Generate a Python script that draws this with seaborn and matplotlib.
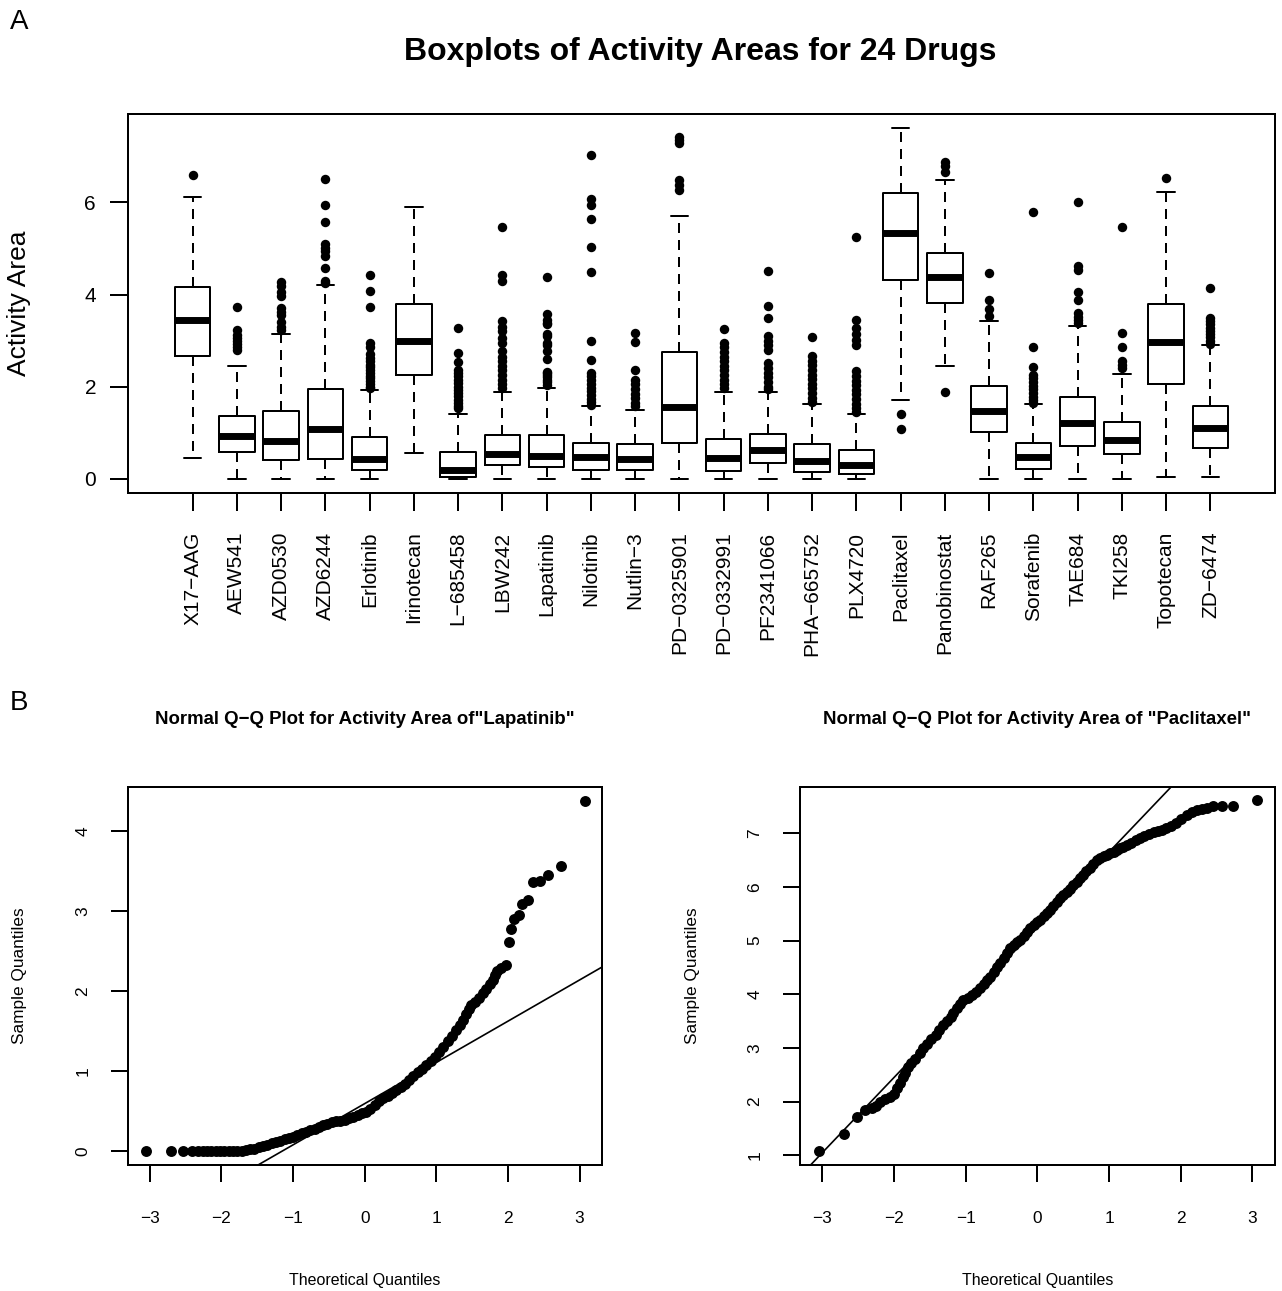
import statistics
import matplotlib
matplotlib.use("Agg")
import matplotlib.pyplot as plt
import seaborn as sns

# Boxplot summaries
drugs = ["X17−AAG", "AEW541", "AZD0530", "AZD6244", "Erlotinib", "Irinotecan",
         "L−685458", "LBW242", "Lapatinib", "Nilotinib", "Nutlin−3", "PD−0325901",
         "PD−0332991", "PF2341066", "PHA−665752", "PLX4720", "Paclitaxel",
         "Panobinostat", "RAF265", "Sorafenib", "TAE684", "TKI258", "Topotecan",
         "ZD−6474"]
box_q1 = [2.67, 0.59, 0.41, 0.43, 0.18, 2.25, 0.03, 0.29, 0.245, 0.195, 0.195, 0.77,
          0.16, 0.34, 0.14, 0.11, 4.305, 3.815, 1.01, 0.21, 0.72, 0.54, 2.06, 0.67]
box_median = [3.44, 0.92, 0.82, 1.08, 0.43, 2.98, 0.195, 0.54, 0.485, 0.47, 0.43, 1.56,
              0.45, 0.63, 0.38, 0.30, 5.335, 4.37, 1.48, 0.47, 1.21, 0.83, 2.96, 1.10]
box_q3 = [4.16, 1.37, 1.46, 1.95, 0.90, 3.80, 0.59, 0.94, 0.94, 0.77, 0.745, 2.75,
          0.87, 0.97, 0.75, 0.63, 6.195, 4.90, 2.02, 0.78, 1.77, 1.24, 3.80, 1.57]
whisker_low = [0.44, 0.0, 0.0, 0.0, 0.0, 0.56, 0.0, 0.0, 0.0, 0.0, 0.0, 0.0,
               0.0, 0.0, 0.0, 0.0, 1.72, 2.45, 0.0, 0.0, 0.0, 0.0, 0.03, 0.03]
whisker_high = [6.12, 2.44, 3.14, 4.20, 1.92, 5.89, 1.40, 1.89, 1.96, 1.57, 1.50, 5.70,
                1.89, 1.89, 1.62, 1.40, 7.62, 6.49, 3.42, 1.62, 3.32, 2.27, 6.22, 2.90]
outliers = [
    [6.60],
    [3.73, 3.24, 3.12, 3.05, 2.98, 2.92, 2.86, 2.80],
    [4.28, 4.18, 4.05, 3.96, 3.70, 3.62, 3.55, 3.40, 3.30, 3.24],
    [6.51, 5.94, 5.58, 5.10, 5.02, 4.95, 4.83, 4.57, 4.30, 4.24],
    [4.43, 4.08, 3.73, 2.95, 2.85, 2.70, 2.62, 2.55, 2.48, 2.42, 2.36, 2.30, 2.24,
     2.18, 2.12, 2.06, 2.00, 1.96],
    [],
    [3.27, 2.73, 2.53, 2.37, 2.30, 2.22, 2.15, 2.08, 2.00, 1.93, 1.86, 1.79, 1.72,
     1.65, 1.58, 1.53],
    [5.46, 4.42, 4.30, 3.43, 3.30, 3.20, 3.05, 2.95, 2.77, 2.65, 2.55, 2.45, 2.35,
     2.25, 2.15, 2.05, 1.97],
    [4.38, 3.57, 3.45, 3.38, 3.36, 3.14, 3.09, 2.95, 2.90, 2.77, 2.61, 2.32, 2.29,
     2.25, 2.20, 2.14, 2.09, 2.03],
    [7.02, 6.07, 5.95, 5.65, 5.03, 4.48, 3.00, 2.58, 2.30, 2.22, 2.14, 2.06, 1.98,
     1.90, 1.82, 1.74, 1.66, 1.61],
    [3.16, 2.97, 2.37, 2.15, 2.05, 1.95, 1.85, 1.75, 1.65, 1.58],
    [7.43, 7.36, 7.30, 6.48, 6.38, 6.26],
    [3.25, 2.95, 2.85, 2.75, 2.65, 2.55, 2.45, 2.35, 2.25, 2.15, 2.05, 1.97],
    [4.52, 3.74, 3.49, 3.09, 3.00, 2.90, 2.80, 2.51, 2.40, 2.30, 2.20, 2.10, 2.00, 1.95],
    [3.07, 2.66, 2.56, 2.46, 2.36, 2.26, 2.16, 2.06, 1.96, 1.86, 1.76, 1.66],
    [5.24, 3.45, 3.27, 3.15, 3.02, 2.90, 2.33, 2.23, 2.13, 2.03, 1.93, 1.83, 1.73,
     1.63, 1.53, 1.45],
    [1.40, 1.086],
    [6.87, 6.80, 6.67, 1.89],
    [4.46, 3.89, 3.68, 3.54],
    [5.80, 2.86, 2.43, 2.26, 2.18, 2.10, 2.02, 1.94, 1.86, 1.78, 1.70, 1.64],
    [6.00, 4.63, 4.54, 4.05, 3.89, 3.60, 3.52, 3.45, 3.38],
    [5.46, 3.16, 2.85, 2.55, 2.48, 2.40],
    [6.54],
    [4.15, 3.49, 3.42, 3.35, 3.28, 3.21, 3.14, 3.07, 3.00, 2.93],
]

# Q-Q points (theoretical quantile, sample quantile)
lapatinib_theoretical = [
    -3.05, -2.70, -2.54, -2.41, -2.33, -2.26, -2.20, -2.14, -2.08, -2.02, -1.96, -1.90,
    -1.84, -1.78, -1.72, -1.66, -1.60, -1.54, -1.48, -1.42, -1.36, -1.30, -1.24, -1.18,
    -1.12, -1.06, -1.00, -0.94, -0.88, -0.82, -0.76, -0.70, -0.64, -0.58, -0.52, -0.46,
    -0.40, -0.34, -0.28, -0.22, -0.16, -0.10, -0.04, 0.02, 0.08, 0.14, 0.20, 0.26, 0.32,
    0.38, 0.44, 0.50, 0.56, 0.62, 0.68, 0.74, 0.80, 0.86, 0.92, 0.98, 1.04, 1.10, 1.16,
    1.22, 1.28, 1.33, 1.37, 1.41, 1.45, 1.49, 1.54, 1.60, 1.65, 1.70, 1.75, 1.79, 1.82,
    1.85, 1.905, 1.975, 2.011, 2.049, 2.09, 2.15, 2.198, 2.277, 2.346, 2.449, 2.565,
    2.742, 3.081]
lapatinib_sample = [
    0.0, 0.0, 0.0, 0.0, 0.0, 0.0, 0.0, 0.0, 0.0, 0.0, 0.0, 0.0,
    0.0, 0.0, 0.005, 0.01, 0.02, 0.03, 0.05, 0.06, 0.08, 0.095, 0.11, 0.13,
    0.15, 0.165, 0.18, 0.20, 0.22, 0.24, 0.26, 0.28, 0.30, 0.32, 0.34, 0.36,
    0.37, 0.38, 0.39, 0.41, 0.43, 0.45, 0.47, 0.49, 0.53, 0.57, 0.62, 0.66, 0.69,
    0.72, 0.76, 0.80, 0.84, 0.89, 0.94, 0.99, 1.03, 1.07, 1.12, 1.18, 1.24, 1.30, 1.37,
    1.44, 1.51, 1.58, 1.64, 1.71, 1.77, 1.82, 1.86, 1.91, 1.97, 2.03, 2.09, 2.14, 2.20,
    2.25, 2.29, 2.32, 2.61, 2.77, 2.90, 2.95, 3.09, 3.14, 3.36, 3.38, 3.45,
    3.567, 4.38]

paclitaxel_theoretical = [
    -3.046, -2.70, -2.52, -2.40, -2.31, -2.25, -2.195, -2.12, -2.055, -2.00, -1.96, -1.92,
    -1.88, -1.85, -1.80, -1.76, -1.70, -1.64, -1.59, -1.54, -1.48, -1.42, -1.37, -1.31,
    -1.26, -1.21, -1.17, -1.12, -1.08, -1.03, -0.97, -0.91, -0.85, -0.80, -0.75, -0.70,
    -0.66, -0.61, -0.56, -0.52, -0.47, -0.43, -0.38, -0.33, -0.28, -0.24, -0.19, -0.15,
    -0.10, -0.05, 0.0, 0.04, 0.09, 0.13, 0.17, 0.22, 0.27, 0.315, 0.36, 0.41, 0.455,
    0.50, 0.55, 0.595, 0.64, 0.685, 0.73, 0.78, 0.83, 0.88, 0.93, 0.97, 1.02, 1.065,
    1.11, 1.155, 1.20, 1.245, 1.30, 1.37, 1.43, 1.49, 1.56, 1.62, 1.68, 1.74, 1.80,
    1.87, 1.94, 2.01, 2.08, 2.15, 2.22, 2.29, 2.36, 2.45, 2.57, 2.73, 3.067]
paclitaxel_sample = [
    1.086, 1.40, 1.72, 1.84, 1.875, 1.92, 2.00, 2.05, 2.09, 2.15, 2.25, 2.35,
    2.45, 2.53, 2.65, 2.72, 2.79, 2.90, 3.00, 3.07, 3.16, 3.25, 3.33, 3.43,
    3.51, 3.58, 3.65, 3.75, 3.82, 3.89, 3.94, 3.98, 4.04, 4.11, 4.19, 4.27,
    4.33, 4.42, 4.51, 4.58, 4.68, 4.77, 4.86, 4.92, 4.97, 5.01, 5.09, 5.16,
    5.23, 5.30, 5.35, 5.39, 5.46, 5.52, 5.57, 5.65, 5.72, 5.79, 5.85, 5.91, 5.97,
    6.03, 6.10, 6.16, 6.22, 6.29, 6.35, 6.43, 6.50, 6.54, 6.57, 6.595, 6.63, 6.66,
    6.69, 6.72, 6.75, 6.78, 6.82, 6.87, 6.91, 6.95, 6.99, 7.03, 7.05, 7.07, 7.09,
    7.13, 7.19, 7.27, 7.34, 7.39, 7.43, 7.45, 7.47, 7.50, 7.50, 7.51, 7.62]

W, H = 1282, 1291
LW = 1.44

sns.set_theme(style="ticks", rc={
    "axes.edgecolor": "black", "axes.linewidth": LW,
    "xtick.color": "black", "ytick.color": "black",
    "xtick.major.width": LW, "ytick.major.width": LW,
    "text.color": "black", "axes.labelcolor": "black",
})
plt.rcParams["font.family"] = ["Liberation Sans", "DejaVu Sans"]

fig = plt.figure(figsize=(W / 100, H / 100), dpi=100)


def frame(left, top, right, bottom):
    return fig.add_axes([left / W, 1 - bottom / H, (right - left) / W, (bottom - top) / H])


# 🔹 Panel A: boxplots
ax = frame(128, 114.3, 1275, 492.7)
stats = []
for i, name in enumerate(drugs):
    stats.append(dict(label=name, q1=box_q1[i], med=box_median[i], q3=box_q3[i],
                      whislo=whisker_low[i], whishi=whisker_high[i], fliers=outliers[i]))
ax.bxp(stats, positions=list(range(1, len(drugs) + 1)), widths=0.8, capwidths=0.4,
       boxprops=dict(color="black", lw=LW),
       whiskerprops=dict(color="black", lw=LW, linestyle=(0, (5, 3.5))),
       capprops=dict(color="black", lw=LW),
       medianprops=dict(color="black", lw=5, solid_capstyle="butt"),
       flierprops=dict(marker="o", markerfacecolor="black", markeredgecolor="black",
                       markersize=6.8, markeredgewidth=0))
ax.set_xlim(-0.46, 25.46)
ax.set_ylim(-0.304, 7.914)
ax.set_yticks([0, 2, 4, 6])
ax.tick_params(axis="x", labelrotation=90, length=13, pad=15, labelsize=15)
ax.tick_params(axis="y", length=13, pad=10, labelsize=15)

fig.text(700 / W, 1 - 60 / H, "Boxplots of Activity Areas for 24 Drugs",
         ha="center", va="baseline", fontsize=23, fontweight="bold")
fig.text(19 / W, 1 - 303.5 / H, "Activity Area", rotation=90,
         ha="center", va="center", fontsize=19)
fig.text(10 / W, 1 - 29 / H, "A", fontsize=20, va="baseline")
fig.text(10 / W, 1 - 710 / H, "B", fontsize=20, va="baseline")

# 🔹 Panel B: normal Q-Q plots
q75 = statistics.NormalDist().inv_cdf(0.75)
panels = [
    (127.7, 601.7, lapatinib_theoretical, lapatinib_sample, "Lapatinib",
     'Normal Q−Q Plot for Activity Area of"Lapatinib"', (-0.175, 4.555), range(0, 5)),
    (800, 1274.7, paclitaxel_theoretical, paclitaxel_sample, "Paclitaxel",
     'Normal Q−Q Plot for Activity Area of "Paclitaxel"', (0.819, 7.868), range(1, 8)),
]
for left, right, theo, samp, drug, title, ylim, yticks in panels:
    qa = frame(left, 786.7, right, 1165)
    sns.scatterplot(x=theo, y=samp, ax=qa, color="black", s=62, linewidth=0)
    k = drugs.index(drug)
    slope = (box_q3[k] - box_q1[k]) / (2 * q75)
    intercept = box_q1[k] + slope * q75
    qa.axline((0, intercept), slope=slope, color="black", lw=1.2)
    qa.set_xlim(-3.31, 3.31)
    qa.set_ylim(*ylim)
    qa.set_xticks(range(-3, 4))
    qa.set_yticks(list(yticks))
    qa.tick_params(axis="x", length=12, pad=21, labelsize=12.4)
    qa.tick_params(axis="y", length=12, pad=15, labelsize=12.4, labelrotation=90)
    for lab in qa.get_yticklabels():
        lab.set_va("center")
    cx = (left + right) / 2
    fig.text(cx / W, 1 - 720 / H, title, ha="center", va="center",
             fontsize=13.4, fontweight="bold")
    fig.text(cx / W, 1 - 1280 / H, "Theoretical Quantiles", ha="center", va="center",
             fontsize=11.5)
    fig.text((left - 107.7) / W, 1 - 976 / H, "Sample Quantiles", rotation=90,
             ha="center", va="center", fontsize=12.4)

fig.savefig("out.png", dpi=100)
